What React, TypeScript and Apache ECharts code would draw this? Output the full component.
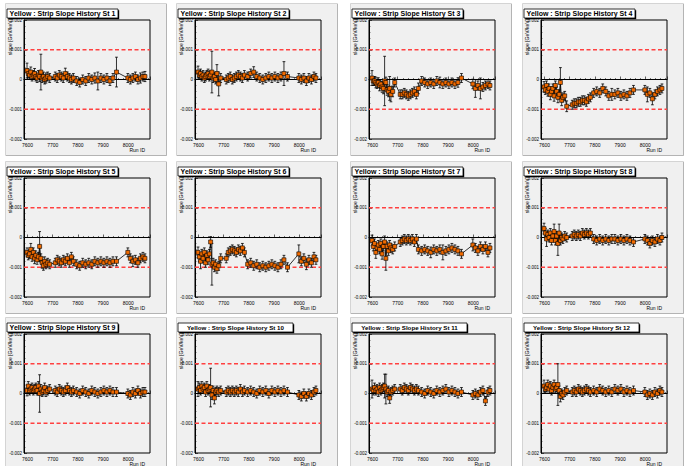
import React, { useEffect, useRef } from "react";
import * as echarts from "echarts";

// Run numbers (x) shared by all stations
const runs = [7598, 7603, 7608, 7613, 7618, 7623, 7628, 7633, 7638, 7643, 7648, 7653, 7658, 7663, 7668, 7673, 7680, 7688,
  7710, 7718, 7726, 7734, 7742, 7750, 7758, 7766, 7774, 7782,
  7795, 7807, 7819, 7831, 7843, 7855, 7867, 7879, 7891, 7903, 7915, 7927, 7939, 7953,
  7998, 8008, 8018, 8028, 8038, 8048, 8058, 8066];

// slopes and errors, in units of 1e-4 GeV/keV
const st1Slope = [3.0, 2.0, 1.5, 2.5, 1.0, 1.5, 2.0, 1.0, 0.5, 1.5, 1.0, 2.5, 0.5, 1.0, 0.0, 0.5, 1.0, 0.5,
  1.0, 0.5, 1.5, 1.0, 0.5, 2.0, 1.0, 0.5, 0.0, 0.5,
  -0.5, -1.0, 0.0, -0.5, 0.5, 0.0, 0.5, -0.5, 0.5, 0.0, 0.5, -0.5, 0.5, 2.5,
  0.5, 0.0, 0.5, 1.0, 0.0, 0.5, 1.0, 1.0];
const st1Err = [2.5, 1.5, 1.5, 1.7, 1.5, 1.5, 1.7, 1.5, 1.5, 1.5, 1.7, 6, 1.5, 1.5, 1.5, 1.7, 1.5, 1.5,
  1.5, 1.5, 1.5, 1.5, 1.5, 1.8, 1.5, 1.5, 1.5, 1.5,
  1.5, 1.5, 1.5, 1.5, 1.5, 1.5, 1.7, 3, 1.5, 1.5, 1.5, 1.5, 1.5, 5,
  1.5, 1.5, 1.5, 1.5, 1.5, 1.7, 1.5, 1.7];

const st2Slope = [2.5, 1.5, 2.0, 1.0, 1.5, 0.5, 1.0, 1.5, 2.0, 1.0, 1.5, 2.5, 0.5, 1.0, 0.0, 2.0, -1.5, 0.5,
  0.0, 0.5, 1.0, 0.0, 0.5, 1.0, 1.5, 1.0, 0.5, 1.5,
  1.0, 2.0, 2.5, 1.0, 0.5, 0.0, 0.5, 1.0, 0.5, 1.0, 0.5, 1.0, 2.0, 1.0,
  0.5, 0.0, 0.5, -0.5, 0.5, 0.0, 1.0, 0.5];
const st2Err = [2, 1.5, 1.5, 1.5, 1.5, 1.5, 1.5, 1.5, 1.5, 1.5, 1.5, 7, 1.5, 1.5, 1.5, 3, 4, 1.5,
  1.5, 1.5, 1.5, 1.5, 1.5, 1.5, 1.5, 1.5, 1.5, 1.5,
  1.5, 1.5, 1.8, 1.5, 1.5, 1.5, 1.5, 1.5, 1.5, 1.5, 1.5, 1.5, 4, 1.5,
  1.5, 1.5, 1.5, 1.5, 1.5, 1.5, 1.5, 1.5];

const st3Slope = [0.5, -0.5, -0.5, -1.0, -1.5, -1.0, -2.0, -1.5, -2.5, -3.0, -0.5, -1.0, -3.5, -4.0, -3.0, -5.0, -4.0, -1.0,
  -5.0, -5.0, -4.5, -5.0, -5.5, -5.0, -4.5, -4.0, -5.0, -3.0,
  -0.5, -1.0, -1.5, -1.0, -1.5, -0.5, -1.0, -1.5, -1.0, -1.5, -1.0, -1.5, -1.0, 0.5,
  -1.5, -3.0, -2.0, -3.0, -2.5, -2.0, -1.5, -2.0];
const st3Err = [2.5, 1.5, 1.5, 1.8, 1.5, 1.6, 1.8, 1.5, 1.8, 1.8, 8.3, 1.8, 1.8, 1.8, 4, 2.5, 1.8, 1.5,
  1.5, 1.5, 1.5, 1.5, 1.5, 1.5, 1.5, 1.5, 1.5, 1.8,
  1.5, 1.5, 1.5, 1.5, 1.5, 1.5, 1.8, 1.5, 1.5, 1.5, 1.5, 1.5, 1.6, 1.5,
  1.6, 3, 1.5, 3.5, 1.5, 1.5, 1.5, 1.5];

const st4Slope = [-2.5, -3.5, -2.0, -4.0, -3.0, -5.0, -4.0, -3.0, -5.5, -2.0, -4.0, -6.0, -5.0, -1.0, -7.0, -6.0, -5.5, -9.0,
  -8.5, -8.0, -8.0, -7.5, -7.5, -7.0, -7.0, -7.5, -6.5, -6.0,
  -4.5, -4.0, -4.5, -3.0, -4.0, -5.5, -5.0, -5.0, -4.5, -5.5, -5.0, -5.5, -4.5, -3.5,
  -3.5, -5.0, -4.5, -6.5, -5.0, -4.0, -3.5, -3.0];
const st4Err = [1.8, 1.5, 1.5, 1.6, 1.5, 1.8, 1.5, 1.5, 1.8, 1.5, 1.5, 1.8, 1.5, 5, 1.8, 1.5, 1.5, 1.8,
  1.5, 1.5, 1.5, 1.5, 1.5, 1.5, 1.5, 1.5, 1.5, 1.5,
  1.5, 1.5, 1.5, 1.5, 1.5, 1.5, 2, 1.5, 1.5, 1.5, 1.5, 1.5, 1.5, 1.5,
  1.5, 2.5, 1.5, 2, 1.5, 1.5, 1.5, 1.5];

const st5Slope = [-5.0, -6.0, -5.5, -4.0, -6.5, -5.0, -7.0, -6.0, -7.5, -6.5, -3.0, -7.0, -8.5, -9.5, -8.0, -9.0, -8.5, -9.0,
  -8.5, -7.5, -8.0, -8.5, -7.5, -8.0, -7.0, -8.5, -6.5, -8.0,
  -9.0, -9.5, -8.5, -9.0, -8.5, -9.0, -8.0, -8.5, -8.0, -8.5, -8.0, -8.5, -8.0, -8.0,
  -5.0, -7.0, -8.0, -7.5, -8.5, -7.0, -6.5, -7.0];
const st5Err = [1.5, 1.5, 1.5, 2, 1.5, 1.5, 1.8, 1.5, 1.5, 1.5, 5, 1.5, 1.8, 1.5, 1.5, 1.5, 1.5, 1.5,
  1.5, 1.5, 1.5, 1.5, 1.5, 1.5, 1.5, 1.5, 1.5, 1.5,
  1.5, 1.5, 1.5, 1.5, 1.5, 1.5, 1.5, 1.5, 1.5, 1.5, 1.5, 1.5, 1.5, 1.5,
  1.5, 1.5, 1.8, 1.5, 1.5, 1.5, 1.5, 1.5];

const st6Slope = [-5.0, -6.5, -8.0, -5.5, -7.0, -5.0, -8.5, -6.0, -7.5, -5.5, -1.5, -9.0, -8.5, -10.0, -9.0, -10.5, -9.5, -7.0,
  -7.0, -5.0, -4.5, -4.0, -4.5, -5.0, -4.0, -4.5, -3.5, -5.0,
  -9.0, -8.5, -9.5, -9.0, -10.0, -9.5, -10.0, -9.5, -9.0, -9.5, -10.0, -9.0, -7.5, -10.0,
  -5.5, -8.0, -7.0, -9.0, -7.5, -8.5, -6.5, -7.5];
const st6Err = [1.8, 1.5, 2.5, 1.5, 1.5, 1.5, 1.5, 1.5, 1.5, 1.5, 1.8, 7, 1.5, 1.5, 1.5, 1.5, 1.5, 1.5,
  1.5, 1.5, 1.5, 1.5, 1.5, 1.5, 1.5, 1.5, 1.5, 1.5,
  1.5, 1.5, 1.5, 1.5, 1.5, 1.5, 1.5, 1.5, 1.5, 1.5, 1.5, 1.5, 1.5, 1.5,
  3, 1.5, 1.5, 1.8, 1.5, 1.5, 1.5, 1.5];

const st7Slope = [-1.0, -3.0, -2.0, -5.0, -3.5, -2.5, -4.0, -2.0, -5.5, -3.0, -1.5, -7.0, -3.0, -4.5, -2.5, -3.5, -4.0, -3.0,
  -1.5, -1.0, -0.5, -1.0, -0.5, -1.0, -0.5, -1.5, -0.5, -4.0,
  -4.5, -4.0, -4.5, -5.0, -4.0, -4.5, -4.0, -5.0, -4.5, -4.0, -3.5, -4.0, -4.5, -5.5,
  -2.5, -3.5, -4.5, -3.0, -4.0, -3.0, -5.0, -3.5];
const st7Err = [1.8, 1.5, 1.5, 2, 1.5, 1.5, 1.5, 1.5, 1.8, 1.5, 2, 4, 1.5, 1.5, 1.5, 1.5, 1.5, 1.5,
  1.5, 1.5, 1.5, 1.5, 1.5, 1.5, 1.5, 1.5, 1.5, 1.5,
  1.5, 1.5, 1.5, 1.8, 1.5, 1.5, 1.5, 2.5, 1.5, 1.5, 1.5, 1.5, 1.5, 1.5,
  2, 1.5, 1.5, 1.5, 1.5, 1.5, 1.5, 1.5];

const st8Slope = [3.0, 1.5, -0.5, 1.0, 0.0, 1.5, -1.0, 0.5, 2.0, -1.0, 0.5, -2.0, 1.5, -1.0, 0.0, -0.5, 0.5, 0.0,
  0.5, 1.0, 0.5, 1.0, 0.5, 1.5, 1.0, 1.5, 1.0, 1.5,
  -0.5, -1.0, -0.5, -1.0, -0.5, -1.0, -0.5, -0.5, -1.0, -0.5, -1.0, -0.5, -1.0, -1.5,
  -0.5, -1.0, -2.0, -1.0, -1.5, -0.5, -1.0, 0.0];
const st8Err = [1.8, 1.5, 2.5, 1.5, 1.5, 1.5, 1.5, 1.5, 2.5, 1.5, 1.5, 4, 3, 1.5, 1.5, 1.5, 1.5, 1.5,
  1.5, 1.5, 1.5, 1.5, 1.5, 1.5, 1.5, 1.5, 1.5, 1.5,
  1.5, 1.5, 1.5, 1.5, 1.5, 1.5, 1.5, 1.5, 1.5, 1.5, 1.5, 1.5, 1.5, 1.5,
  1.5, 1.5, 1.5, 1.5, 1.5, 1.5, 1.5, 1.5];

const st9Slope = [1.0, 2.5, 1.0, 1.5, 2.0, 1.0, 1.5, 2.0, 1.0, 2.5, 0.0, 1.5, 0.5, 1.0, 2.0, 0.5, 1.0, 1.5,
  1.0, 0.5, 1.5, 1.0, 0.5, 1.0, 2.0, 1.0, 0.5, 1.0,
  0.5, 0.0, 1.0, 0.5, 0.0, 1.0, 0.5, 0.0, 0.5, 1.0, 0.5, 1.0, 0.5, 0.5,
  0.0, -0.5, 0.5, 0.0, 1.0, 0.0, 0.5, 0.5];
const st9Err = [1.8, 1.5, 1.5, 1.5, 1.5, 1.5, 1.5, 1.5, 1.5, 1.5, 6.3, 1.5, 1.5, 1.5, 1.5, 1.5, 1.5, 1.5,
  1.5, 1.5, 1.5, 1.5, 1.5, 1.5, 1.5, 1.5, 1.5, 1.5,
  1.5, 1.5, 1.5, 1.5, 1.5, 1.5, 1.5, 1.5, 1.5, 1.5, 1.5, 1.5, 1.5, 1.5,
  1.5, 1.5, 1.5, 1.5, 1.5, 1.5, 1.5, 1.5];

const st10Slope = [1.5, 2.0, 1.0, 2.5, 1.5, 2.0, 0.5, 2.5, 1.0, 1.5, 2.0, -0.5, 1.0, -1.5, 0.5, 1.0, 0.5, 1.0,
  0.5, 1.0, 0.5, 1.0, 0.5, 1.0, 0.5, 1.5, 0.5, 1.0,
  0.5, 1.0, 0.5, 0.0, 1.0, 0.5, 1.0, 0.0, 1.0, 0.5, 1.0, 0.5, 1.0, 0.5,
  -0.5, -1.0, 0.0, -1.0, 0.0, -0.5, 0.5, 1.0];
const st10Err = [2.5, 1.5, 1.5, 1.5, 1.5, 1.5, 1.5, 1.5, 1.5, 1.5, 6.5, 1.5, 1.5, 2, 1.5, 1.5, 1.5, 1.5,
  1.5, 1.5, 1.5, 1.5, 1.5, 1.5, 1.5, 1.5, 1.5, 1.5,
  1.5, 1.5, 1.5, 1.5, 1.5, 1.5, 1.5, 1.5, 1.5, 1.5, 1.5, 1.5, 1.5, 1.5,
  1.5, 1.5, 1.5, 1.5, 1.5, 1.5, 1.5, 1.5];

const st11Slope = [1.5, 1.0, 2.0, 1.0, 1.5, 0.5, 2.0, 1.0, 1.5, 2.0, 2.5, 1.5, 0.5, 1.0, -1.5, 0.5, 1.0, 1.5,
  1.5, 1.0, 2.0, 1.5, 1.0, 2.0, 1.5, 1.0, 1.5, 1.0,
  0.5, 0.0, 1.0, 0.5, 0.0, 1.0, 0.5, 1.0, 1.5, 0.5, 1.0, 0.5, 0.0, 0.5,
  -0.5, 0.0, -0.5, 0.5, 1.0, -2.5, 0.5, 1.0];
const st11Err = [3, 1.5, 1.5, 1.5, 1.5, 1.5, 1.5, 1.5, 1.5, 1.5, 4, 5, 1.5, 1.5, 1.8, 1.5, 1.5, 1.5,
  1.5, 1.5, 1.5, 1.5, 1.5, 1.5, 1.5, 1.5, 1.5, 1.5,
  1.5, 1.5, 1.5, 1.5, 1.5, 1.5, 1.5, 1.5, 1.5, 1.5, 1.5, 1.5, 1.5, 1.5,
  1.5, 1.5, 1.5, 1.5, 1.5, 1.5, 1.5, 1.5];

const st12Slope = [2.5, 1.5, 2.0, 3.0, 1.5, 2.5, 1.0, 2.0, 3.0, 1.5, 2.0, 3.0, 1.0, -1.0, 0.0, -0.5, 0.5, 1.0,
  0.5, 1.0, 0.5, 1.5, 1.0, 0.5, 1.0, 1.5, 1.0, 0.5,
  1.0, 0.5, 1.5, 1.0, 0.5, 1.0, 0.5, 1.5, 1.0, 1.5, 0.5, 1.0, 0.5, 1.0,
  0.5, -0.5, 0.0, -0.5, 0.5, 0.0, 1.0, 0.5];
const st12Err = [2, 1.5, 1.5, 1.5, 1.5, 1.5, 1.5, 1.5, 1.5, 1.5, 1.5, 7, 1.5, 1.8, 1.5, 1.5, 1.5, 1.5,
  1.5, 1.5, 1.5, 1.5, 1.5, 1.5, 1.5, 1.5, 1.5, 1.5,
  1.5, 1.5, 1.5, 1.5, 1.5, 1.5, 1.5, 1.5, 1.5, 1.5, 1.5, 1.5, 1.5, 1.5,
  1.5, 1.5, 1.5, 1.5, 1.5, 1.5, 1.5, 1.5];

const titles = [
  "Yellow : Strip Slope History St 1", "Yellow : Strip Slope History St 2",
  "Yellow : Strip Slope History St 3", "Yellow : Strip Slope History St 4",
  "Yellow : Strip Slope History St 5", "Yellow : Strip Slope History St 6",
  "Yellow : Strip Slope History St 7", "Yellow : Strip Slope History St 8",
  "Yellow : Strip Slope History St 9", "Yellow : Strip Slope History St 10",
  "Yellow : Strip Slope History St 11", "Yellow : Strip Slope History St 12",
];
const slopes = [st1Slope, st2Slope, st3Slope, st4Slope, st5Slope, st6Slope, st7Slope, st8Slope, st9Slope, st10Slope, st11Slope, st12Slope];
const errors = [st1Err, st2Err, st3Err, st4Err, st5Err, st6Err, st7Err, st8Err, st9Err, st10Err, st11Err, st12Err];

const UNIT = 1e-4;
const yLimitLines = [0.001, -0.001];
const yTitle = "slope [GeV/keV]";
const xTitle = "Run ID";
const xMin = 7586, xMax = 8086;

// layout
const FRAME_L = [24, 195, 369, 541];
const FRAME_T = [20, 178, 334];
const FRAME_W = 126, FRAME_H = 119;
const PAD_W = 161, PAD_H = 152;
const FONT = "'Liberation Sans', Arial, Helvetica, sans-serif";

export default function App() {
  const ref = useRef<HTMLDivElement>(null);
  useEffect(() => {
    const chart = echarts.init(ref.current!, null, { renderer: "svg" });
    const grid: any[] = [], xAxis: any[] = [], yAxis: any[] = [], series: any[] = [], graphic: any[] = [];
    titles.forEach((title, i) => {
      const c = i % 4, r = Math.floor(i / 4);
      const fl = FRAME_L[c], ft = FRAME_T[r];
      const pl = fl - 19, pt = ft - 17;
      graphic.push({ type: "rect", z: -100, shape: { x: pl + 0.5, y: pt + 0.5, width: PAD_W, height: PAD_H }, style: { fill: "#f0f0f0", stroke: "#d4d4d4", lineWidth: 1 } });
      graphic.push({ type: "polyline", z: -99, shape: { points: [[pl + PAD_W + 0.5, pt + 1], [pl + PAD_W + 0.5, pt + PAD_H + 0.5], [pl + 1, pt + PAD_H + 0.5]] }, style: { fill: null, stroke: "#b4b4b4", lineWidth: 1 } });
      const big = i >= 9;
      const bw = big ? 115 : 111;
      const bx = fl - 17, by = ft - 11;
      graphic.push({ type: "rect", z: 100, shape: { x: bx + 1.2, y: by + 1.2, width: bw, height: 9 }, style: { fill: "#000" } });
      graphic.push({ type: "rect", z: 101, shape: { x: bx, y: by, width: bw, height: 9 }, style: { fill: "#fff", stroke: "#000", lineWidth: 0.8 } });
      graphic.push({ type: "text", z: 102, x: bx + bw / 2, y: by + 4.8, style: { text: title, align: "center", verticalAlign: "middle", fontSize: big ? 6.2 : 7, fontWeight: "bold", fontFamily: FONT, fill: "#000" } });
      graphic.push({ type: "text", z: 102, x: fl - 14, y: ft - 1, rotation: Math.PI / 2, style: { text: yTitle, align: "right", verticalAlign: "middle", fontSize: 5, fontFamily: FONT, fill: "#000" } });
      graphic.push({ type: "text", z: 102, x: fl + FRAME_W - 5, y: ft + FRAME_H + 11, style: { text: xTitle, align: "right", verticalAlign: "middle", fontSize: 5, fontFamily: FONT, fill: "#000" } });

      grid.push({ left: fl, top: ft, width: FRAME_W, height: FRAME_H, show: true, borderColor: "#000", borderWidth: 1, backgroundColor: "#f0f0f0", containLabel: false, outerBoundsMode: "none" });
      xAxis.push({
        gridIndex: i, type: "value", min: xMin, max: xMax, splitNumber: 5,
        axisLine: { show: true, lineStyle: { color: "#000", width: 1 } },
        axisTick: { show: true, inside: true, length: 3, lineStyle: { color: "#000", width: 0.6 } },
        minorTick: { show: true, splitNumber: 5, length: 1.5, lineStyle: { color: "#000", width: 0.5 } },
        axisLabel: { fontSize: 5, color: "#000", margin: 3, fontFamily: FONT, showMinLabel: false, showMaxLabel: false, formatter: (v: number) => (v % 100 === 0 ? String(v) : "") },
        splitLine: { show: false },
      });
      yAxis.push({
        gridIndex: i, type: "value", min: -0.002, max: 0.002, interval: 0.001,
        axisLine: { show: true, lineStyle: { color: "#000", width: 1 } },
        axisTick: { show: true, inside: true, length: 3, lineStyle: { color: "#000", width: 0.6 } },
        minorTick: { show: true, splitNumber: 5, length: 1.5, lineStyle: { color: "#000", width: 0.5 } },
        axisLabel: { fontSize: 4.5, color: "#000", margin: 2, fontFamily: FONT, formatter: (v: number) => String(Math.round(v * 1000) / 1000) },
        splitLine: { show: false },
      });
      // reference lines: ±0.001 (red dashed) and 0 (black)
      yLimitLines.forEach((v) => {
        series.push({
          type: "line", xAxisIndex: i, yAxisIndex: i, z: 1, silent: true, symbol: "none",
          data: [[xMin, v], [xMax, v]],
          lineStyle: { color: "#ff4040", type: [4, 2.5], width: 1.4 },
        });
      });
      series.push({
        type: "line", xAxisIndex: i, yAxisIndex: i, z: 1, silent: true, symbol: "none",
        data: [[xMin, 0], [xMax, 0]],
        lineStyle: { color: "#000", type: "solid", width: 1 },
      });
      const s = slopes[i], e = errors[i];
      series.push({
        type: "custom", xAxisIndex: i, yAxisIndex: i, z: 2, clip: true, silent: true,
        data: runs.map((run, j) => [run, (s[j] - e[j]) * UNIT, (s[j] + e[j]) * UNIT]),
        encode: { x: 0, y: [1, 2] },
        renderItem: (_p: any, api: any) => {
          const x = api.value(0);
          const a = api.coord([x, api.value(2)]);
          const b = api.coord([x, api.value(1)]);
          const st = { stroke: "#000", lineWidth: 0.8 };
          const cw = 1.4;
          return {
            type: "group", children: [
              { type: "line", shape: { x1: a[0], y1: a[1], x2: b[0], y2: b[1] }, style: st },
              { type: "line", shape: { x1: a[0] - cw, y1: a[1], x2: a[0] + cw, y2: a[1] }, style: st },
              { type: "line", shape: { x1: b[0] - cw, y1: b[1], x2: b[0] + cw, y2: b[1] }, style: st },
            ],
          };
        },
      });
      series.push({
        type: "line", xAxisIndex: i, yAxisIndex: i, z: 3, silent: true,
        data: runs.map((run, j) => [run, s[j] * UNIT]),
        symbol: "rect", symbolSize: 4, showSymbol: true, showAllSymbol: true,
        lineStyle: { color: "#000", width: 0.8 },
        itemStyle: { color: "#f06a00", borderColor: "#000", borderWidth: 0.6 },
      });
    });
    chart.setOption({ animation: false, backgroundColor: "#fff", grid, xAxis, yAxis, series, graphic: { elements: graphic } });
    return () => chart.dispose();
  }, []);
  return <div ref={ref} style={{ position: "fixed", left: 0, top: 0, width: 688, height: 466 }} />;
}
